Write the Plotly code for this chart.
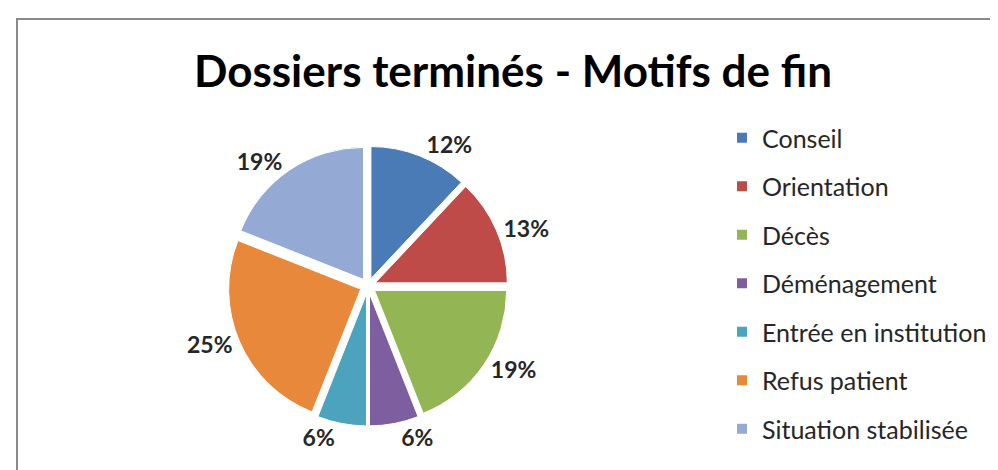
import plotly.graph_objects as go

categories = ["Conseil", "Orientation", "Décès", "Déménagement",
              "Entrée en institution", "Refus patient", "Situation stabilisée"]
values = [12, 13, 19, 6, 6, 25, 19]
colors = ["#4A7BB7", "#BE4B48", "#93B553", "#7D5FA0", "#4BA3BE", "#E8883A", "#94A9D4"]
title_text = "Dossiers terminés - Motifs de fin"

W, H = 998, 470
cx, cy, R = 360, 278, 140

fig = go.Figure()
fig.add_trace(go.Pie(
    labels=categories, values=values, sort=False, direction="clockwise", rotation=0,
    marker=dict(colors=colors, line=dict(color="white", width=1)),
    pull=[0.06] * len(values),
    textinfo="percent", texttemplate="%{percent:.0%}", textposition="outside",
    textfont=dict(family="Lato", size=23, color="#262626", weight="bold"),
    domain=dict(x=[(cx - R) / W, (cx + R) / W], y=[(H - cy - R) / H, (H - cy + R) / H]),
    showlegend=False, hoverinfo="label+percent",
))
for name, col in zip(categories, colors):
    fig.add_trace(go.Scatter(
        x=[None], y=[None], mode="markers", name=name, legendgroup=name,
        marker=dict(symbol="square", size=10, color=col),
    ))

fig.update_layout(
    width=W, height=H, margin=dict(l=0, r=0, t=0, b=0),
    paper_bgcolor="white", plot_bgcolor="white",
    title=dict(text=title_text, x=505 / W, xanchor="center", y=1 - 64 / H, yanchor="middle",
               font=dict(family="Lato", size=44, color="#000000", weight="bold")),
    xaxis=dict(visible=False), yaxis=dict(visible=False),
    legend=dict(x=714 / W, xanchor="left", y=1 - 107 / H, yanchor="top",
                font=dict(family="Lato", size=25, color="#262626"),
                tracegroupgap=13, itemwidth=30, bgcolor="rgba(0,0,0,0)"),
    shapes=[dict(type="rect", xref="paper", yref="paper",
                 x0=9 / W, x1=1.05, y0=-0.05, y1=1 - 11 / H,
                 line=dict(color="#8a8a8a", width=2), fillcolor="rgba(0,0,0,0)")],
)
fig.write_html("out.html")
